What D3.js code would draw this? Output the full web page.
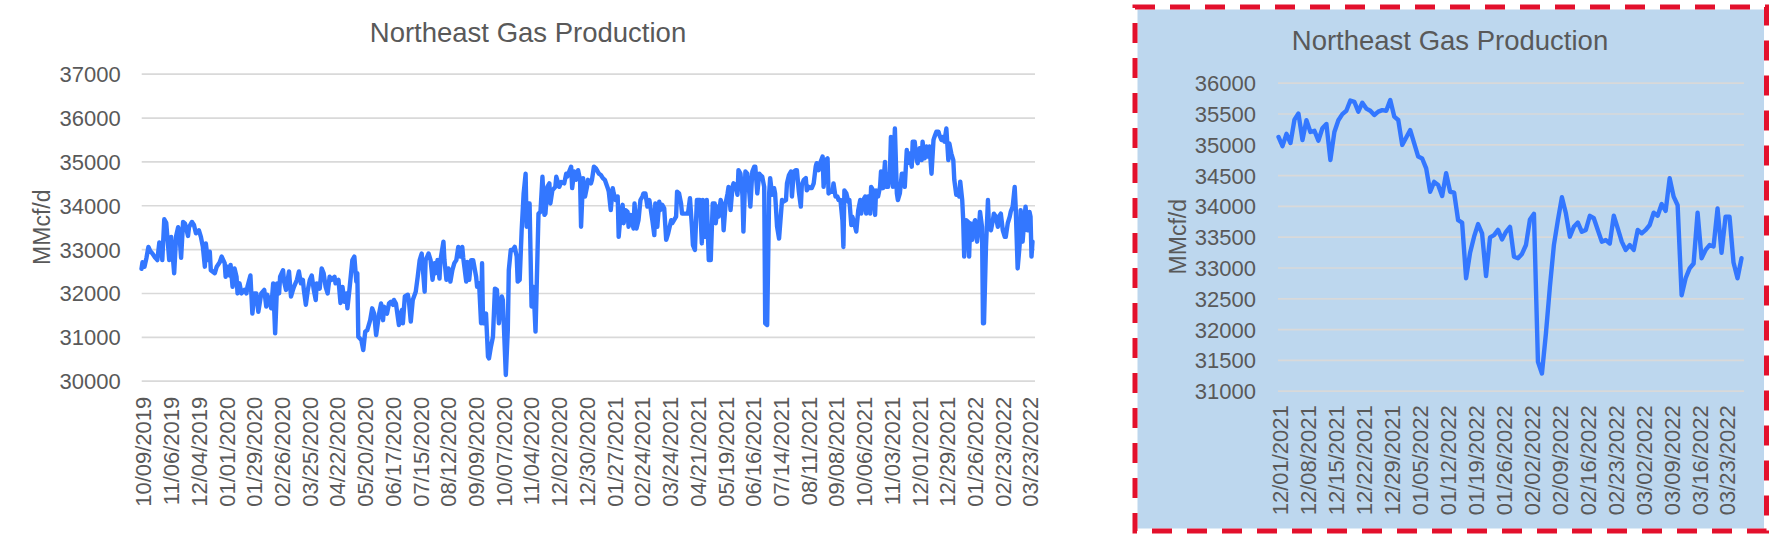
<!DOCTYPE html>
<html><head><meta charset="utf-8">
<script src="https://cdn.jsdelivr.net/npm/d3@7"></script>
<style>
html,body{margin:0;padding:0;background:#fff;}
svg{display:block;}
</style></head><body>
<svg id="chart" width="1769" height="535"></svg>
<script>
// ---------------- DATA ----------------
const chartTitle = "Northeast Gas Production";
const yAxisTitle = "MMcf/d";

// Left chart: full history (day offsets from leftStart, values in MMcf/d)
const leftStart = "2019-10-09";
const leftEnd = "2022-03-27";
const leftDays = [
  0,1,3,5,7,9,11,14,16,18,
  20,21,23,25,28,30,33,35,37,38,
  40,42,44,47,48,51,53,55,58,60,
  62,64,65,67,69,70,74,76,79,81,
  84,85,87,89,90,92,94,96,97,99,
  101,104,106,107,110,112,114,116,118,121,
  124,126,127,129,131,133,135,137,139,140,
  143,144,146,149,151,153,154,157,159,161,
  163,164,166,168,170,172,174,176,177,180,
  182,184,186,188,190,192,195,196,199,201,
  203,205,207,208,210,213,215,217,218,219,
  222,224,226,228,231,233,235,237,240,242,
  244,245,248,250,252,254,255,257,260,261,
  263,264,266,269,270,272,274,277,279,281,
  283,286,287,290,
  292,294,296,297,299,301,302,305,306,308,
  310,312,314,316,318,320,322,324,325,328,
  329,331,333,335,338,339,341,343,344,345,
  348,350,351,353,355,357,359,361,362,364,
  365,368,370,371,373,375,377,379,380,382,
  384,386,388,389,391,392,394,396,398,399,
  401,403,405,407,408,410,412,413,415,418,
  419,422,424,427,429,430,432,434,435,437,
  439,441,443,444,446,448,450,451,454,455,
  457,459,462,464,466,468,471,472,474,476,
  477,479,481,482,484,486,487,489,491,492,
  494,497,498,500,502,504,506,507,509,511,
  513,514,516,518,519,521,523,524,526,528,
  530,532,535,536,540,541,543,545,546,548,
  550,552,554,556,557,559,561,564,566,567,
  569,571,573,575,577,579,580,582,583,585,
  587,588,590,592,
  593,595,597,598,600,602,603,605,607,608,
  610,612,614,615,617,619,620,622,624,625,
  627,629,630,632,634,635,637,639,640,642,
  644,647,648,651,652,654,656,657,659,661,
  662,664,666,667,669,671,672,674,676,677,
  679,681,682,684,686,688,689,691,693,694,
  696,698,699,701,703,704,706,708,709,710,
  712,714,715,717,718,720,722,724,726,727,
  729,731,732,734,736,737,739,741,742,744,
  746,747,749,751,752,754,756,757,759,761,
  763,764,766,768,769,771,773,774,776,778,
  779,781,783,784,786,788,789,791,793,794,
  796,798,800,801,803,805,806,808,810,811,
  813,815,816,818,820,821,823,825,826,827,
  829,830,831,833,835,836,837,839,841,842,
  844,846,847,849,850,851,853,855,856,858,
  860,861,863,865,866,868,870,872,873,875,
  877,878,880,882,883,885,887,888,890,892,
  893,895,897,898,899,900
];
const leftValues = [
  32550,32700,32600,32800,33050,32950,32900,32800,32750,33150,
  33100,32750,33680,33600,32750,33280,32450,33300,33500,33430,
  32800,33620,33580,33300,33500,33620,33550,33360,33430,33280,
  33050,32600,33130,32750,32940,32520,32450,32600,32700,32830,
  32680,32370,32600,32400,32640,32140,32560,32370,31990,32220,
  31990,32070,31990,32140,32400,31530,31990,31990,31570,31990,
  32070,31690,31960,31840,31650,32220,31080,32220,31990,32370,
  32520,32260,32070,32490,31920,32070,32140,32300,32490,32220,
  32300,32070,31730,32070,32300,32400,32070,31840,32220,32100,
  32560,32450,32140,31990,32370,32300,32370,32220,32300,31770,
  32140,31800,31990,31650,32070,32750,32830,32260,32450,31000,
  30930,30700,31120,31150,31380,31650,31530,31040,31530,31760,
  31380,31690,31530,31760,31800,31730,31840,31760,31270,31460,
  31610,31310,31920,31960,31840,31350,31840,32030,32370,32750,
  32900,32030,32750,32900,
  32750,32300,32680,32450,32750,32330,32750,33170,32750,32300,
  32560,32260,32520,32680,32750,33050,32830,33050,32800,32260,
  32710,32300,32750,32750,32370,32140,32220,31310,32680,31310,
  31530,30550,30510,30780,31000,32100,32070,31310,31530,31920,
  31840,30130,31150,32520,32980,32980,33050,32830,32260,32300,
  33430,34270,34720,33510,34040,34040,31690,32140,31120,31990,
  33810,33850,34650,33780,33810,34420,34500,34040,34340,34420,
  34650,34420,34530,34500,34720,34650,34770,34880,34390,34770,
  34580,34800,34580,33510,34620,34200,34420,34580,34500,34580,
  34880,34840,34720,34690,34620,34580,34390,34310,33890,34390,
  34270,34120,34200,33280,33810,34010,33590,33890,33850,33510,
  33780,33470,34040,33470,33660,34120,34200,34270,34270,33970,
  34120,33970,33660,33320,34040,33510,34080,33890,34010,33930,
  33210,33360,33660,33590,33740,34310,34270,34040,33810,33810,
  33810,33810,34160,33510,33090,32980,34120,34120,33130,34120,
  33280,34120,32750,32750,34040,34040,33590,33970,33740,34120,
  33970,33430,34040,34270,
  34420,33890,34420,34500,34460,34240,34800,34720,34240,33400,
  34770,34720,34270,33970,34770,34880,34880,34270,34720,34690,
  34650,34420,31310,31270,34270,34620,34240,34390,34270,33510,
  33240,34120,34080,34120,34500,34690,34770,34200,34770,34800,
  34800,34310,33970,34460,34580,34620,34340,34420,34390,34390,
  34500,34880,34960,34800,34990,35110,34420,35030,35070,34270,
  34310,34310,34500,34200,34200,34120,34120,33660,33050,34340,
  34270,34080,34120,33550,33740,33590,33400,33890,34120,33810,
  34120,34200,33810,34200,33810,34420,34340,33780,34340,34200,
  34420,34770,34390,34990,34420,34420,34770,35560,34420,35750,
  34270,34120,34270,34720,34720,34420,35260,34960,35180,34880,
  35450,35450,35030,34960,35300,35030,35450,35070,35340,35110,
  35340,34720,35490,35560,35680,35680,35600,35490,35560,35450,
  35750,35030,35410,35180,35030,34580,34240,34270,34200,34540,
  34120,33660,32830,33660,33620,32830,33590,33210,33590,33660,
  33170,33510,33850,33510,31310,31310,33050,34120,33510,33430,
  33660,33810,33740,33510,33740,33810,33430,33280,33280,33590,
  33740,33850,33970,34420,33970,32560,33090,33890,33170,33740,
  33970,33430,33850,33740,32830,33170
];
const leftYTicks = [30000, 31000, 32000, 33000, 34000, 35000, 36000, 37000];
const leftXTickLabels = [
  "10/09/2019","11/06/2019","12/04/2019","01/01/2020","01/29/2020","02/26/2020",
  "03/25/2020","04/22/2020","05/20/2020","06/17/2020","07/15/2020","08/12/2020",
  "09/09/2020","10/07/2020","11/04/2020","12/02/2020","12/30/2020","01/27/2021",
  "02/24/2021","03/24/2021","04/21/2021","05/19/2021","06/16/2021","07/14/2021",
  "08/11/2021","09/08/2021","10/06/2021","11/03/2021","12/01/2021","12/29/2021",
  "01/26/2022","02/23/2022","03/23/2022"
];

// Right chart: daily values from rightStart
const rightStart = "2021-12-01";
const rightEnd = "2022-03-27";
const rightValues = [
  35120,34970,35170,35020,35400,35500,35070,35390,35200,35220,
  35060,35260,35330,34745,35200,35390,35490,35545,35710,35690,
  35530,35675,35580,35545,35475,35530,35555,35545,35720,35450,
  35395,34990,35110,35230,35015,34800,34770,34610,34230,34390,
  34340,34160,34530,34230,34215,33770,33730,32825,33240,33500,
  33705,33555,32860,33490,33525,33610,33455,33580,33660,33175,
  33150,33220,33365,33780,33870,31470,31280,31930,32690,33365,
  33770,34140,33880,33500,33660,33730,33580,33610,33840,33800,
  33610,33420,33445,33390,33840,33635,33420,33285,33365,33285,
  33610,33555,33610,33690,33890,33840,34030,33920,34450,34150,
  34010,32550,32825,32985,33065,33890,33150,33285,33365,33340,
  33960,33240,33825,33825,33080,32825,33150
];
const rightYTicks = [31000, 31500, 32000, 32500, 33000, 33500, 34000, 34500, 35000, 35500, 36000];
const rightXTickLabels = [
  "12/01/2021","12/08/2021","12/15/2021","12/22/2021","12/29/2021","01/05/2022",
  "01/12/2022","01/19/2022","01/26/2022","02/02/2022","02/09/2022","02/16/2022",
  "02/23/2022","03/02/2022","03/09/2022","03/16/2022","03/23/2022"
];

// ---------------- RENDER ----------------
const FONT = '"Liberation Sans", Arial, Helvetica, sans-serif';
const TEXT = "#595959", GRID = "#d9d9d9", LINE = "#3377ff";
const parseISO = d3.utcParse("%Y-%m-%d");
const parseLabel = d3.utcParse("%m/%d/%Y");
const fmtLabel = d3.utcFormat("%m/%d/%Y");
const svg = d3.select("#chart").attr("font-family", FONT);

svg.append("rect").attr("x", 0).attr("y", 0).attr("width", 1769).attr("height", 535).attr("fill", "#fff");

// right panel background + dashed border
svg.append("rect").attr("x", 1137.5).attr("y", 9.5).attr("width", 626.5).attr("height", 519)
  .attr("fill", "#bdd7ee");
svg.append("rect").attr("x", 1135).attr("y", 7).attr("width", 631.5).attr("height", 524)
  .attr("fill", "none").attr("stroke", "#e3102c").attr("stroke-width", 5)
  .attr("stroke-dasharray", "20,15");

const leftStartDate = parseISO(leftStart);
const leftData = leftDays.map((d, i) => ({ date: d3.utcDay.offset(leftStartDate, d), value: leftValues[i] }));
const rightStartDate = parseISO(rightStart);
const rightData = rightValues.map((v, i) => ({ date: d3.utcDay.offset(rightStartDate, i), value: v }));

function drawChart(cfg) {
  const g = svg.append("g");
  const x = d3.scaleUtc().domain([cfg.start, cfg.end]).range([cfg.x0, cfg.x1]);
  const y = d3.scaleLinear()
    .domain([cfg.yTicks[0], cfg.yTicks[cfg.yTicks.length - 1]])
    .range([cfg.yBottom, cfg.yTop]);

  // gridlines + y tick labels
  const ya = g.append("g").attr("transform", `translate(${cfg.gx0},0)`)
    .call(d3.axisLeft(y).tickValues(cfg.yTicks).tickSize(-(cfg.gx1 - cfg.gx0))
      .tickPadding(cfg.yPad).tickFormat(d3.format("d")));
  ya.attr("font-family", FONT).attr("font-size", 22);
  ya.select(".domain").remove();
  ya.selectAll(".tick line").attr("stroke", GRID).attr("stroke-width", 1.7);
  ya.selectAll(".tick text").attr("fill", TEXT).attr("dy", "0.36em");

  // x tick labels (rotated)
  const xa = g.append("g").attr("transform", `translate(0,${cfg.yBottom})`)
    .call(d3.axisBottom(x).tickValues(cfg.xTicks.map(parseLabel)).tickSize(0).tickFormat(fmtLabel));
  xa.attr("font-family", FONT).attr("font-size", 22);
  xa.select(".domain").remove();
  xa.selectAll(".tick text").attr("fill", TEXT)
    .attr("transform", "rotate(-90)").attr("text-anchor", "end")
    .attr("x", -cfg.xLabPad).attr("y", 0).attr("dy", 9.4);

  // series line
  const line = d3.line().x(d => x(d.date)).y(d => y(d.value));
  g.append("path").datum(cfg.data).attr("d", line)
    .attr("fill", "none").attr("stroke", LINE).attr("stroke-width", 4.4)
    .attr("stroke-linejoin", "round").attr("stroke-linecap", "round");

  // title
  g.append("text").attr("x", cfg.titleX).attr("y", cfg.titleY)
    .attr("text-anchor", "middle").attr("font-size", 27.5).attr("fill", TEXT).text(chartTitle);

  // y axis title
  g.append("text").attr("transform", `translate(${cfg.yTitleX},${(cfg.yTop + cfg.yBottom) / 2}) rotate(-90)`)
    .attr("text-anchor", "middle").attr("font-size", 23).attr("fill", TEXT).text(yAxisTitle);
}

drawChart({
  data: leftData, start: leftStartDate, end: parseISO(leftEnd),
  x0: 141.5, x1: 1032.5, gx0: 141.7, gx1: 1035,
  yTop: 73.7, yBottom: 380.7, yTicks: leftYTicks, yPad: 21,
  xTicks: leftXTickLabels, xLabPad: 16,
  titleX: 528, titleY: 42, yTitleX: 50
});

drawChart({
  data: rightData, start: rightStartDate, end: parseISO(rightEnd),
  x0: 1278.5, x1: 1741.5, gx0: 1278, gx1: 1744,
  yTop: 82.7, yBottom: 390.7, yTicks: rightYTicks, yPad: 22,
  xTicks: rightXTickLabels, xLabPad: 14.5,
  titleX: 1450, titleY: 50, yTitleX: 1186
});
</script>
</body></html>
